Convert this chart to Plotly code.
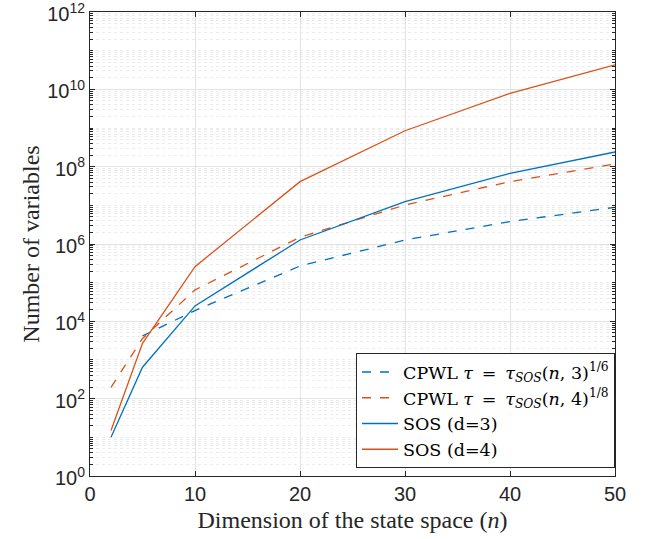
import plotly.graph_objects as go

n_all = [2, 5, 10, 20, 30, 40, 50]
n_cpwl3 = [5, 10, 20, 30, 40, 50]
cpwl3 = [4200, 1.9e4, 2.7e5, 1.27e6, 3.8e6, 8.9e6]
cpwl4 = [196, 3600, 6.5e4, 1.5e6, 1.02e7, 4.1e7, 1.17e8]
sos3 = [10, 650, 2.5e4, 1.27e6, 1.24e7, 6.7e7, 2.4e8]
sos4 = [15, 2700, 2.6e5, 4.1e7, 8.5e8, 7.9e9, 4.3e10]

ytickvals = [1, 1e2, 1e4, 1e6, 1e8, 1e10, 1e12]
yticktext = ["10<sup>0</sup>", "10<sup>2</sup>", "10<sup>4</sup>", "10<sup>6</sup>",
             "10<sup>8</sup>", "10<sup>10</sup>", "10<sup>12</sup>"]
xtickvals = [0, 10, 20, 30, 40, 50]

BLUE = "#0072BD"
ORANGE = "#D95319"

fig = go.Figure()
fig.add_trace(go.Scatter(x=n_cpwl3, y=cpwl3, mode="lines",
                         line=dict(color=BLUE, width=1.3, dash="dash"),
                         name="CPWL <i>τ</i>\u2002=\u2002<i>τ<sub>SOS</sub></i>(<i>n</i>, 3)<sup>1/6</sup>"))
fig.add_trace(go.Scatter(x=n_all, y=cpwl4, mode="lines",
                         line=dict(color=ORANGE, width=1.3, dash="dash"),
                         name="CPWL <i>τ</i>\u2002=\u2002<i>τ<sub>SOS</sub></i>(<i>n</i>, 4)<sup>1/8</sup>"))
fig.add_trace(go.Scatter(x=n_all, y=sos3, mode="lines",
                         line=dict(color=BLUE, width=1.3),
                         name="SOS (d=3)"))
fig.add_trace(go.Scatter(x=n_all, y=sos4, mode="lines",
                         line=dict(color=ORANGE, width=1.3),
                         name="SOS (d=4)"))

fig.update_layout(
    width=646, height=539,
    margin=dict(l=90, r=31, t=12, b=63, autoexpand=False),
    paper_bgcolor="white", plot_bgcolor="white",
    font=dict(family="Liberation Sans, Arial", color="#262626"),
    legend=dict(x=1, y=0.017, xanchor="right", yanchor="bottom",
                bgcolor="white", bordercolor="#262626", borderwidth=1,
                font=dict(family="DejaVu Serif, serif", size=17.5, color="black"),
                tracegroupgap=0, itemwidth=36),
    showlegend=True,
)
fig.update_xaxes(
    range=[0, 50], tickvals=xtickvals, ticks="inside", ticklen=5,
    tickcolor="#262626", showline=True, linecolor="#262626", linewidth=1,
    mirror="allticks", showgrid=True, gridcolor="#e3e3e3", zeroline=False,
    automargin=False,
    tickfont=dict(size=20, family="Liberation Sans, Arial", color="#262626"),
    title=dict(text="Dimension of the state space (<i>n</i>)",
               font=dict(family="Liberation Serif, serif", size=24, color="#262626"),
               standoff=7),
)
fig.update_yaxes(
    type="log", range=[-0.0005, 12.0005], tickvals=ytickvals, ticktext=yticktext,
    ticks="inside", ticklen=5, tickcolor="#262626", ticklabeloverflow="allow",
    ticklabelshift=2,
    showline=True, linecolor="#262626", linewidth=1, mirror="allticks",
    showgrid=True, gridcolor="#e3e3e3", zeroline=False,
    automargin=False,
    tickfont=dict(size=20, family="Liberation Sans, Arial", color="#262626"),
    minor=dict(dtick="D1", showgrid=True, gridcolor="#ececec", griddash="dot",
               gridwidth=1, ticks="inside", ticklen=3, tickcolor="#262626"),
    title=dict(text="Number of variables",
               font=dict(family="Liberation Serif, serif", size=24, color="#262626"),
               standoff=0),
)

fig.write_html("out.html", config={"displayModeBar": False},
               post_script="document.body.style.margin='0';")
